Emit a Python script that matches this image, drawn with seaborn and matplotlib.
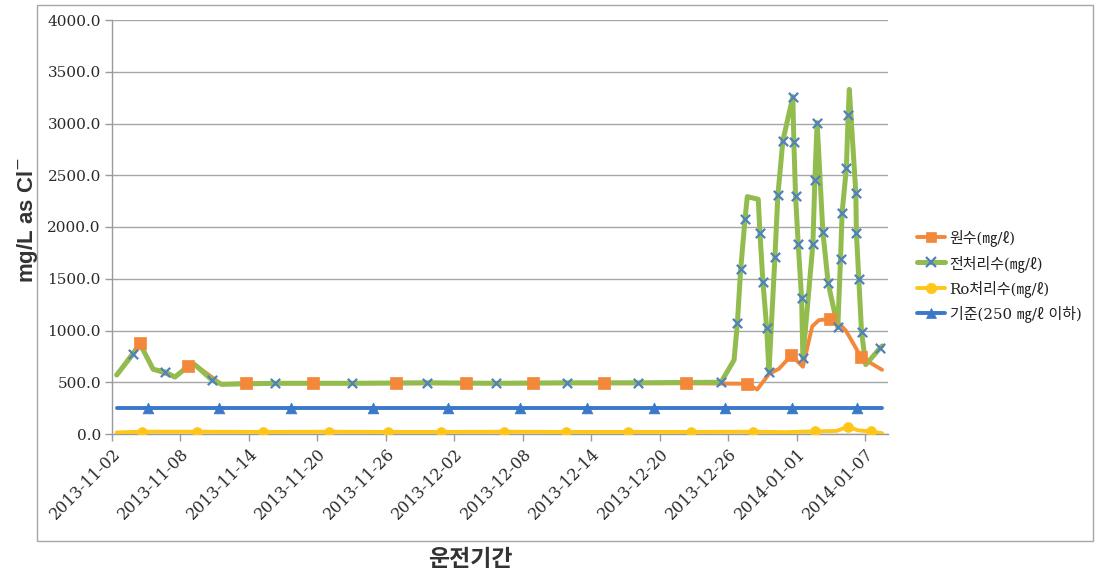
import numpy as np
import pandas as pd
import matplotlib
matplotlib.use("Agg")
import matplotlib.pyplot as plt
from matplotlib.lines import Line2D
from matplotlib.patches import Rectangle
import seaborn as sns

# Chloride concentration over the operating period.
# Times are given in days elapsed since 2013-11-02 00:00.
START = pd.Timestamp("2013-11-02")

# 원수 (raw water)
raw_days = [0.41, 2.45, 3.60, 5.50, 6.68, 7.26, 9.60, 11.72, 17.59, 24.85, 31.06,
            36.92, 43.13, 50.31, 55.67, 56.54, 57.57, 58.44, 59.54, 60.54, 61.36,
            61.94, 62.90, 63.54, 64.30, 65.66, 67.48]
raw_vals = [570, 880, 625, 550, 660, 670, 480, 490, 490, 490, 490,
            490, 490, 490, 485, 430, 580, 630, 760, 650, 1040,
            1100, 1110, 1085, 1000, 740, 620]
raw_marked = [1, 4, 7, 8, 9, 10, 11, 12, 13, 14, 18, 22, 25]

# 전처리수 (pretreated water)
pre_days = [0.41, 1.86, 2.45, 3.61, 4.64, 5.51, 6.68, 7.26, 8.72, 9.60,
            14.26, 21.00, 27.56, 33.68, 39.90, 46.10, 53.37, 54.51, 54.80, 55.09,
            55.47, 55.67, 56.63, 56.78, 57.04, 57.37, 57.57, 58.09, 58.35, 58.79,
            59.66, 59.75, 59.90, 60.13, 60.43, 60.54, 61.42, 61.59, 61.79, 62.29,
            62.76, 63.60, 63.84, 63.98, 64.35, 64.51, 64.61, 65.18, 65.23, 65.44,
            65.68, 66.05, 67.34, 67.48]
pre_vals = [570, 775, 870, 625, 600, 550, 655, 670, 525, 480,
            490, 490, 495, 490, 495, 495, 500, 715, 1069, 1591,
            2074, 2293, 2268, 1939, 1472, 1021, 602, 1707, 2309, 2834,
            3259, 2826, 2300, 1836, 1311, 730, 1836, 2454, 3008, 1955,
            1456, 1030, 1691, 2139, 2567, 3082, 3330, 2332, 1945, 1500,
            990, 670, 835, 850]
pre_marked = [1, 4, 8, 10, 11, 12, 13, 14, 15, 16, 18, 19, 20, 23, 24, 25, 26,
              27, 28, 29, 30, 31, 32, 33, 34, 35, 36, 37, 38, 39, 40, 41, 42,
              43, 44, 45, 47, 48, 49, 50, 52]

# Ro처리수 (RO permeate)
ro_days = [0.41, 2.62, 7.44, 13.21, 18.99, 24.15, 28.87, 34.38, 39.81, 45.23,
           50.74, 56.17, 59.00, 61.59, 63.50, 64.48, 65.40, 66.49, 67.48]
ro_vals = [15, 22, 22, 20, 22, 20, 20, 22, 20, 20,
           20, 22, 18, 25, 30, 70, 35, 25, 8]
ro_marked = [1, 2, 3, 4, 5, 6, 7, 8, 9, 10, 11, 13, 15, 17]

# 기준 (standard: 250 mg/L or less)
std_days = [0.41, 3.15, 9.36, 15.66, 22.83, 29.48, 35.78, 41.65, 47.51, 53.72,
            59.58, 65.27, 67.48]
std_vals = [250] * len(std_days)
std_marked = list(range(1, 12))

labels = ["원수(㎎/ℓ)", "전처리수(㎎/ℓ)", "Ro처리수(㎎/ℓ)", "기준(250 ㎎/ℓ 이하)"]
tick_dates = pd.date_range(START, periods=12, freq="6D")
y_ticks = np.arange(0, 4001, 500)


def to_dates(days):
    return START + pd.to_timedelta(np.asarray(days, dtype=float), unit="D")


sns.set_theme(style="white")
plt.rcParams["font.family"] = ["DejaVu Serif", "Noto Sans CJK KR"]

fig = plt.figure(figsize=(10.95, 5.76), dpi=100)
ax = fig.add_axes([112 / 1095, 1 - 434 / 576, (888 - 112) / 1095, (434 - 20) / 576])

series = [
    # days, values, marked, line colour, line width, marker, marker colour, marker size, zorder
    (raw_days, raw_vals, raw_marked, "#F4883A", 2.8, "s", "#F4883A", 70, 3),
    (pre_days, pre_vals, pre_marked, "#93BC4E", 3.6, "x", "#4F81BD", 45, 4),
    (ro_days, ro_vals, ro_marked, "#FFC61A", 2.8, "o", "#FFC61A", 50, 3),
    (std_days, std_vals, std_marked, "#3A78C9", 2.8, "^", "#3A78C9", 60, 3),
]

handles = []
for (days, vals, marked, color, lw, mk, mcolor, ms, z), lab in zip(series, labels):
    d = to_dates(days)
    v = np.asarray(vals, dtype=float)
    sns.lineplot(x=d, y=v, ax=ax, color=color, linewidth=lw,
                 estimator=None, sort=False, zorder=z)
    idx = np.asarray(marked)
    if mk == "x":
        sns.scatterplot(x=d[idx], y=v[idx], ax=ax, marker="x", color=mcolor,
                        s=ms, linewidth=1.6, zorder=z + 2)
    else:
        sns.scatterplot(x=d[idx], y=v[idx], ax=ax, marker=mk, color=mcolor,
                        s=ms, edgecolor=mcolor, linewidth=0.5, zorder=z + 2)
    handles.append(Line2D([0], [0], color=color, lw=lw, marker=mk,
                          markersize=7.5 if mk != "x" else 6.5,
                          markerfacecolor=mcolor, markeredgecolor=mcolor,
                          markeredgewidth=1.6 if mk == "x" else 0.5, label=lab))

ax.set_xlim(START, START + pd.Timedelta(days=68))
ax.set_ylim(0, 4000)
ax.set_xticks(tick_dates)
ax.set_xticklabels([t.strftime("%Y-%m-%d") for t in tick_dates], rotation=45,
                   ha="right", va="top", rotation_mode="anchor",
                   fontsize=11.5, color="#2A2A2A")
ax.set_yticks(y_ticks)
ax.set_yticklabels([f"{t:.1f}" for t in y_ticks], fontsize=11, color="#2A2A2A")
ax.tick_params(axis="both", direction="out", length=5, width=1, color="#9A9A9A",
               pad=3, bottom=True, left=True)
ax.grid(axis="y", color="#A6A6A6", linewidth=1)
ax.grid(axis="x", visible=False)
ax.set_axisbelow(True)
for side in ["top", "right"]:
    ax.spines[side].set_visible(False)
for side in ["left", "bottom"]:
    ax.spines[side].set_color("#9A9A9A")
    ax.spines[side].set_linewidth(1)
ax.set_xlabel("")
ax.set_ylabel("")

fig.text(27 / 1095, 1 - 220 / 576, "mg/L as Cl$^{-}$", rotation=90, ha="center",
         va="center", fontsize=16, fontweight="bold", family=["Liberation Sans"],
         color="#333333")
fig.text(470 / 1095, 1 - 559 / 576, "운전기간", ha="center", va="center",
         fontsize=16.5, fontweight="bold", family=["Noto Sans CJK KR"], color="#333333")

fig.legend(handles=handles, loc="upper left", bbox_to_anchor=(903 / 1095, 1 - 216 / 576),
           frameon=False, handlelength=1.9, handletextpad=0.3, labelspacing=0.55,
           prop={"family": ["DejaVu Serif", "Noto Sans CJK KR"], "size": 10.8},
           labelcolor="#222222")

fig.patches.append(Rectangle((37 / 1095, 1 - 541 / 576), (1093 - 37) / 1095,
                             (541 - 5) / 576, transform=fig.transFigure,
                             fill=False, edgecolor="#A6A6A6", linewidth=1))

fig.savefig("out.png", dpi=100)
